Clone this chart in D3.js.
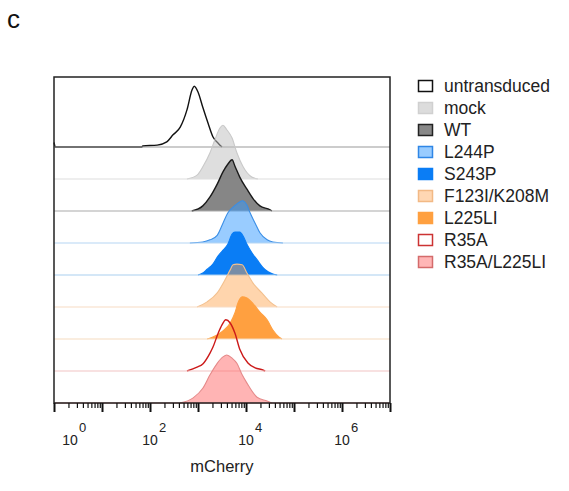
<!DOCTYPE html>
<html>
<head>
<meta charset="utf-8">
<script src="https://cdn.jsdelivr.net/npm/d3@7"></script>
<style>
body { margin: 0; background: #fff; }
svg { font-family: Arial, "Liberation Sans", sans-serif; }
</style>
</head>
<body>
<svg width="569" height="491"></svg>
<script>
var samples = ["untransduced","mock","WT","L244P","S243P","F123I/K208M","L225LI","R35A","R35A/L225LI"];

// histograms: [log10 mCherry, count (% of scale)]
var untransduced = [[0,7],[0.03,0],[1.83,0],[1.85,1.6],[2.15,3],[2.35,8],[2.48,19],[2.63,31],[2.77,58],[2.875,89],[2.92,95],[3.0,86],[3.1,62],[3.21,37],[3.31,16],[3.42,6],[3.5,0]];
var mock = [[2.77,0],[2.98,6],[3.1,19],[3.25,41],[3.35,61],[3.46,80],[3.52,84],[3.6,77],[3.71,64],[3.81,41],[3.94,19],[4.12,3],[4.25,0]];
var wt = [[2.87,0],[3.1,8],[3.25,22],[3.4,42],[3.52,61],[3.62,73],[3.71,80],[3.77,70],[3.87,53],[4.02,34],[4.15,19],[4.29,8],[4.5,2],[4.54,0]];
var l244p = [[2.83,0],[3.1,1.6],[3.25,5],[3.4,12],[3.52,31],[3.62,47],[3.73,56],[3.83,62],[3.92,66],[4.02,59],[4.08,48],[4.19,31],[4.29,16],[4.44,5],[4.56,1.6],[4.77,0]];
var s243p = [[3.0,0],[3.1,3],[3.19,9],[3.31,17],[3.42,30],[3.5,37],[3.62,48],[3.71,64],[3.77,67],[3.87,67],[3.94,61],[4.02,48],[4.12,35],[4.23,24],[4.35,12],[4.46,5],[4.56,1.6],[4.65,0]];
var f123i = [[2.98,0],[3.19,8],[3.4,22],[3.56,42],[3.67,58],[3.73,66],[3.81,67],[3.92,66],[4.02,53],[4.15,37],[4.33,22],[4.5,8],[4.65,0]];
var l225li = [[3.19,0],[3.31,3],[3.52,12.5],[3.67,25],[3.77,41],[3.83,56],[3.92,66],[4.02,64],[4.15,55],[4.29,42],[4.44,30],[4.56,14],[4.69,3],[4.75,0]];
var r35a = [[2.77,0],[2.98,6],[3.1,11],[3.25,28],[3.31,37],[3.42,59],[3.5,72],[3.58,80],[3.67,75],[3.77,59],[3.87,34],[4.04,12.5],[4.19,5],[4.35,1.6],[4.4,0]];
var r35aL225li = [[2.62,0],[2.9,8],[3.1,23],[3.25,44],[3.4,62],[3.52,72],[3.6,75],[3.71,70],[3.81,62],[3.92,44],[4.02,31],[4.23,9],[4.44,3],[4.54,0]];
var histograms = [untransduced, mock, wt, l244p, s243p, f123i, l225li, r35a, r35aL225li];

var decades = [0,1,2,3,4,5,6,7];
var labelExps = [0,2,4,6];

// styles
var fillColors   = ["none","#bdbdbd","#7f7f7f","#3399ff","#0a7df5","#ffa24a","#ffa040","none","#ff6a6a"];
var fillOpacity  = [0,0.5,0.95,0.5,1,0.45,1,0,0.5];
var strokeColors = ["#111","#c9c9c9","#1a1a1a","#3a8ee6","#0a7df5","#f3c08e","#ffa040","#cc1a1a","#e58a8a"];
var baseColors   = ["#9a9a9a","#dedede","#a9a9a9","#b5d6f3","#a9cfef","#f8dcc3","#f6dcc0","#f1c4c4","#e58a8a"];
var swatchFill   = ["#fff","#dcdcdc","#888","#99ccff","#0a7df5","#ffd7b3","#ffa040","#fff","#ffb6b6"];
var swatchStroke = ["#111","#d0d0d0","#222","#2f86e6","#0a7df5","#f2b985","#ffa040","#cc3333","#d46b6b"];

var svg = d3.select("svg"),
    margin = {top: 77, left: 54},
    width = 336,
    height = 326,
    g = svg.append("g").attr("transform", "translate(" + margin.left + "," + margin.top + ")");

var x = d3.scaleLog().domain([1, 1e7]).range([0, width]);
var row = d3.scalePoint().domain(samples).range([70, height]);
var h = d3.scaleLinear().domain([0, 100]).range([0, 64]);

histograms.forEach(function(data, i) {
  var base = row(samples[i]);
  var area = d3.area()
      .x(function(d) { return x(Math.pow(10, d[0])); })
      .y0(base)
      .y1(function(d) { return base - h(d[1]); })
      .curve(d3.curveMonotoneX);
  var line = area.lineY1();

  if (fillColors[i] != "none") {
    g.append("path")
        .datum(data)
        .attr("d", area)
        .attr("fill", fillColors[i])
        .attr("fill-opacity", fillOpacity[i]);
  }

  g.append("path")
      .datum(data)
      .attr("d", line)
      .attr("fill", "none")
      .attr("stroke", strokeColors[i])
      .attr("stroke-width", (i == 0 || i == 2 || i == 7) ? 1.4 : 1.1);

  // zero line across the whole range, lighter than the outline
  g.append("line")
      .attr("x1", 0).attr("x2", width)
      .attr("y1", base).attr("y2", base)
      .attr("stroke", baseColors[i])
      .attr("stroke-width", 1.2);
});

// frame
g.append("rect")
    .attr("width", width).attr("height", height)
    .attr("fill", "none")
    .attr("stroke", "#222")
    .attr("stroke-width", 1.5);

// log ticks
var minor = [];
decades.slice(0, -1).forEach(function(e) {
  for (var k = 2; k < 10; k++) minor.push(k * Math.pow(10, e));
});

g.append("g")
    .attr("transform", "translate(0," + height + ")")
    .call(d3.axisBottom(x).tickValues(minor).tickSize(5).tickFormat(""))
    .call(function(a) { a.select(".domain").remove(); a.selectAll("line").attr("stroke", "#111").attr("stroke-width", 1.2); });

var major = g.append("g")
    .attr("transform", "translate(0," + height + ")")
    .call(d3.axisBottom(x).tickValues(decades.map(function(e) { return Math.pow(10, e); })).tickSize(9).tickFormat(""));
major.select(".domain").remove();
major.selectAll("line").attr("stroke", "#111").attr("stroke-width", 2);

// tick labels 10^n, the first one pushed inside
var labels = g.append("g").attr("transform", "translate(0," + height + ")");
labelExps.forEach(function(e) {
  var cx = x(Math.pow(10, e)) + (e == 0 ? 16 : 0);
  labels.append("text")
      .attr("x", cx)
      .attr("y", 42)
      .attr("text-anchor", "middle")
      .attr("fill", "#222")
      .attr("font-size", 14)
      .text("10");
  labels.append("text")
      .attr("x", cx + 9)
      .attr("y", 29)
      .attr("fill", "#222")
      .attr("font-size", 13)
      .text(e);
});

svg.append("text")
    .attr("x", margin.left + width / 2)
    .attr("y", 472)
    .attr("text-anchor", "middle")
    .attr("font-size", 16.5)
    .attr("fill", "#222")
    .text("mCherry");

svg.append("text")
    .attr("x", 7)
    .attr("y", 28)
    .attr("font-size", 26)
    .attr("fill", "#111")
    .text("c");

// legend
var legend = svg.append("g").attr("transform", "translate(418,86)");
var item = legend.selectAll("g")
  .data(samples)
  .enter().append("g")
    .attr("transform", function(d, i) { return "translate(0," + (i * 22) + ")"; });
item.append("rect")
    .attr("x", 0.5).attr("y", -5.5)
    .attr("width", 14).attr("height", 11)
    .attr("fill", function(d, i) { return swatchFill[i]; })
    .attr("stroke", function(d, i) { return swatchStroke[i]; })
    .attr("stroke-width", 1.5);
item.append("text")
    .attr("x", 26)
    .attr("y", 6)
    .attr("font-size", 17.5)
    .attr("fill", "#222")
    .text(function(d) { return d; });
</script>
</body>
</html>
